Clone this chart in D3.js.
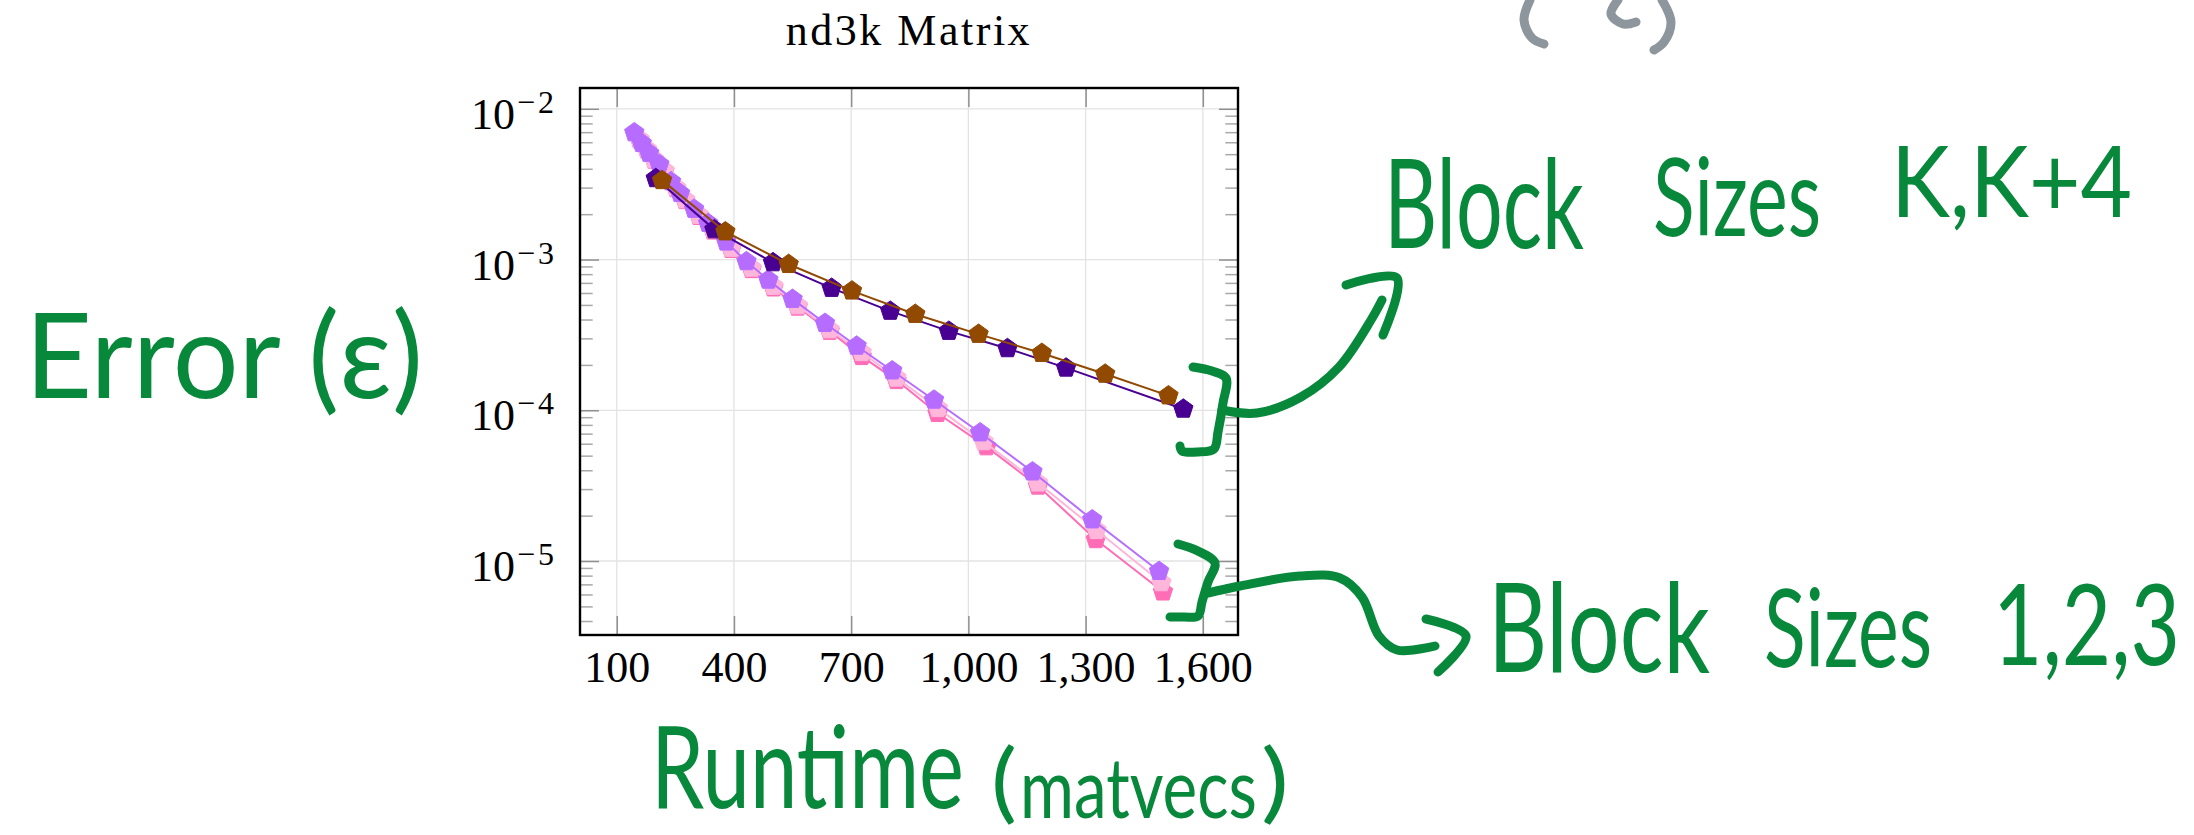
<!DOCTYPE html>
<html>
<head>
<meta charset="utf-8">
<script src="https://cdn.jsdelivr.net/npm/d3@7"></script>
<style>
    html, body { margin: 0; padding: 0; background: #fff; }
    svg { display: block; }
</style>
</head>
<body>
<svg id="chart" width="2194" height="835"></svg>
<script>
const title = "nd3k Matrix"
const xTicks = [100, 400, 700, 1000, 1300, 1600]
const yTicks = [1e-2, 1e-3, 1e-4, 1e-5]
const xDomain = [6, 1690]
const yDomain = [3.23e-6, 1.374e-2]

// block size K
const runtimeK = [200, 350, 500, 650, 800, 950, 1100, 1250, 1550]
const errorK = [3.45e-3, 1.58e-3, 9.55e-4, 6.46e-4, 4.55e-4, 3.35e-4, 2.57e-4, 1.91e-4, 1.02e-4]
// block size K+4
const runtimeK4 = [216, 378, 540, 702, 864, 1026, 1188, 1350, 1512]
const errorK4 = [3.35e-3, 1.53e-3, 9.3e-4, 6.2e-4, 4.34e-4, 3.2e-4, 2.39e-4, 1.74e-4, 1.25e-4]
// block size 1
const runtimeB1 = [145, 164, 183, 209, 239, 262, 298, 334, 380, 432, 488, 550, 633, 714, 805, 912, 1030, 1164, 1317, 1488]
const errorB1 = [6.95e-3, 5.91e-3, 5.07e-3, 4.28e-3, 3.29e-3, 2.75e-3, 2.16e-3, 1.74e-3, 1.31e-3, 9.7e-4, 7.32e-4, 5.46e-4, 3.78e-4, 2.67e-4, 1.83e-4, 1.17e-4, 7.1e-5, 3.91e-5, 1.88e-5, 8.55e-6]
// block size 2
const runtimeB2 = [158, 177, 196, 222, 252, 275, 311, 347, 393, 445, 501, 563, 645, 727, 816, 922, 1039, 1178, 1328, 1494]
const errorB2 = [6.3e-3, 5.4e-3, 4.62e-3, 3.9e-3, 3.0e-3, 2.5e-3, 1.97e-3, 1.58e-3, 1.19e-3, 8.8e-4, 6.65e-4, 4.95e-4, 3.43e-4, 2.42e-4, 1.64e-4, 1.03e-4, 6.2e-5, 3.3e-5, 1.6e-5, 7.2e-6]
// block size 3
const runtimeB3 = [158, 177, 196, 222, 252, 275, 311, 347, 393, 445, 501, 563, 645, 727, 816, 921, 1046, 1178, 1326, 1498]
const errorB3 = [6.25e-3, 5.35e-3, 4.58e-3, 3.85e-3, 2.96e-3, 2.47e-3, 1.94e-3, 1.55e-3, 1.17e-3, 8.6e-4, 6.5e-4, 4.85e-4, 3.35e-4, 2.28e-4, 1.58e-4, 9.55e-5, 5.74e-5, 3.15e-5, 1.39e-5, 6.25e-6]

const seriesColors = ["#ff6db6", "#ffb6db", "#b66dff", "#490092", "#924900"]
const INK = "#07883b"
const SERIF = "'Liberation Serif', 'DejaVu Serif', serif"
const HAND = "Lato, 'Liberation Sans', sans-serif"

class ErrorPlot {
    constructor(svgSel) {
        this.svg = d3.select(svgSel)
        this.left = 580
        this.right = 1238
        this.top = 88
        this.bottom = 635

        this.x = d3.scaleLinear().domain(xDomain).range([this.left, this.right])
        this.y = d3.scaleLog().domain(yDomain).range([this.bottom, this.top])

        this.series = [
            [runtimeB3, errorB3],
            [runtimeB2, errorB2],
            [runtimeB1, errorB1],
            [runtimeK, errorK],
            [runtimeK4, errorK4]
        ].map((s, i) => ({points: d3.zip(s[0], s[1]), color: seriesColors[i]}))

        this.drawGrid()
        this.drawTicks()
        this.drawSeries()
        this.drawFrame()
        this.drawLabels()
    }
    drawGrid() {
        let g = this.svg.append("g").attr("class", "grid")
        g.selectAll(".gx").data(xTicks).join("line")
        .attr("x1", d => this.x(d))
        .attr("x2", d => this.x(d))
        .attr("y1", this.top)
        .attr("y2", this.bottom)
        .attr("stroke", "#e3e3e3")
        .attr("stroke-width", 1.3)
        g.selectAll(".gy").data(yTicks).join("line")
        .attr("x1", this.left)
        .attr("x2", this.right)
        .attr("y1", d => this.y(d))
        .attr("y2", d => this.y(d))
        .attr("stroke", "#e3e3e3")
        .attr("stroke-width", 1.3)
    }
    styleTicks(g, color) {
        g.select(".domain").remove()
        g.selectAll("line").attr("stroke", color).attr("stroke-width", 1.5)
    }
    drawTicks() {
        let minor = this.y.ticks().filter(v => Math.abs(Math.log10(v) - Math.round(Math.log10(v))) > 1e-6)

        this.svg.append("g")
        .attr("transform", `translate(0,${this.top})`)
        .call(d3.axisTop(this.x).tickValues(xTicks).tickSize(-19).tickFormat(""))
        .call(g => this.styleTicks(g, "#8f8f8f"))

        let bottom = this.svg.append("g")
        .attr("transform", `translate(0,${this.bottom})`)
        .call(d3.axisBottom(this.x).tickValues(xTicks).tickSize(-19).tickPadding(16).tickFormat(d3.format(",")))
        .call(g => this.styleTicks(g, "#8f8f8f"))
        bottom.attr("font-family", SERIF).attr("font-size", 44)
        bottom.selectAll("text").attr("fill", "#000")

        for (let side of ["left", "right"]) {
            let px = side == "left" ? this.left : this.right
            let axis = side == "left" ? d3.axisLeft : d3.axisRight
            this.svg.append("g")
            .attr("transform", `translate(${px},0)`)
            .call(axis(this.y).tickValues(minor).tickSize(-12.7).tickFormat(""))
            .call(g => this.styleTicks(g, "#a9a9a9"))
            this.svg.append("g")
            .attr("transform", `translate(${px},0)`)
            .call(axis(this.y).tickValues(yTicks).tickSize(-19).tickFormat(""))
            .call(g => this.styleTicks(g, "#8f8f8f"))
        }
    }
    pentagon(r) {
        let pts = d3.range(5).map(i => {
            let a = -Math.PI / 2 + i * 2 * Math.PI / 5
            return [r * Math.cos(a), r * Math.sin(a)]
        })
        return "M" + pts.join("L") + "Z"
    }
    drawSeries() {
        let line = d3.line().x(d => this.x(d[0])).y(d => this.y(d[1]))
        let mark = this.pentagon(10.2)
        for (let s of this.series) {
            let g = this.svg.append("g")
            g.append("path")
            .attr("d", line(s.points))
            .attr("fill", "none")
            .attr("stroke", s.color)
            .attr("stroke-width", 2)
            g.selectAll("path.mark").data(s.points).join("path")
            .attr("class", "mark")
            .attr("d", mark)
            .attr("transform", d => `translate(${this.x(d[0])},${this.y(d[1])})`)
            .attr("fill", s.color)
            .attr("stroke", s.color)
            .attr("stroke-width", 1)
        }
    }
    drawFrame() {
        this.svg.append("rect")
        .attr("x", this.left)
        .attr("y", this.top)
        .attr("width", this.right - this.left)
        .attr("height", this.bottom - this.top)
        .attr("fill", "none")
        .attr("stroke", "#000")
        .attr("stroke-width", 2.4)
    }
    drawLabels() {
        let labels = this.svg.append("g")
        .attr("font-family", SERIF)
        .attr("fill", "#000")
        // 10 and its exponent are two texts so they sit like a LaTeX label
        labels.selectAll("text.ybase").data(yTicks).join("text")
        .attr("class", "ybase")
        .attr("x", this.left - 65)
        .attr("y", d => this.y(d) + 20)
        .attr("text-anchor", "end")
        .attr("font-size", 44)
        .text("10")
        labels.selectAll("text.yexp").data(yTicks).join("text")
        .attr("class", "yexp")
        .attr("x", this.left - 63)
        .attr("y", d => this.y(d) + 4)
        .attr("font-size", 32)
        .attr("letter-spacing", 3)
        .text(d => "\u2212" + Math.round(-Math.log10(d)))

        labels.append("text")
        .attr("x", (this.left + this.right) / 2)
        .attr("y", 45)
        .attr("text-anchor", "middle")
        .attr("font-size", 44)
        .attr("letter-spacing", 2.5)
        .text(title)
    }
}

// handwritten notes on top of the figure
const inkWords = [
    {text: "Error (\u03b5)", x: 25, y: 398, size: 118, width: 398},
    {text: "Runtime", x: 651, y: 808, size: 114, width: 313},
    {text: "(", x: 991, y: 812, size: 88, width: 26},
    {text: "matvecs", x: 1020, y: 818, size: 84, width: 237},
    {text: ")", x: 1261, y: 812, size: 88, width: 28},
    {text: "Block", x: 1384, y: 248, size: 125, width: 200},
    {text: "Sizes", x: 1653, y: 236, size: 108, width: 168},
    {text: "K,K+4", x: 1891, y: 217, size: 98, width: 241},
    {text: "Block", x: 1488, y: 672, size: 125, width: 222},
    {text: "Sizes", x: 1764, y: 667, size: 108, width: 168},
    {text: "1,2,3", x: 1993, y: 665, size: 112, width: 187}
]
const inkStrokes = [
    // brace round the K, K+4 curves and its arrow
    [[1193, 367], [1212, 371], [1226, 378], [1223, 403], [1218, 432], [1214, 449], [1198, 452], [1182, 451], [1180, 446]],
    [[1222, 410], [1257, 413], [1301, 397], [1339, 367], [1371, 320], [1382, 300]],
    [[1346, 285], [1397, 278], [1383, 335]],
    // brace round the 1,2,3 curves and its arrow
    [[1178, 544], [1198, 551], [1215, 563], [1208, 582], [1202, 602], [1198, 616], [1184, 617], [1170, 617]],
    [[1208, 593], [1240, 586], [1300, 576], [1340, 578], [1362, 597], [1379, 636], [1397, 650], [1435, 646]],
    [[1426, 619], [1466, 636], [1438, 672]]
]
const greyStrokes = [
    [[1530, 0], [1524, 20], [1532, 38], [1544, 44]],
    [[1618, 0], [1611, 14], [1623, 24], [1636, 22]],
    [[1662, 0], [1671, 22], [1664, 42], [1654, 50]]
]

function drawInk(svg) {
    let g = svg.append("g")
    let curve = d3.line().curve(d3.curveCatmullRom.alpha(0.5))
    g.selectAll("path.ink").data(inkStrokes).join("path")
    .attr("d", curve)
    .attr("fill", "none")
    .attr("stroke", INK)
    .attr("stroke-width", 9)
    .attr("stroke-linecap", "round")
    .attr("stroke-linejoin", "round")
    g.selectAll("path.grey").data(greyStrokes).join("path")
    .attr("d", curve)
    .attr("fill", "none")
    .attr("stroke", "#8d969c")
    .attr("stroke-width", 9)
    .attr("stroke-linecap", "round")
    g.selectAll("text.ink").data(inkWords).join("text")
    .attr("font-size", d => d.size)
    .attr("font-family", HAND)
    .attr("fill", INK)
    .text(d => d.text)
    .attr("transform", function(d) {
        let w = this.getComputedTextLength()
        return `translate(${d.x},${d.y}) scale(${d.width / w},1)`
    })
}

let plot = new ErrorPlot("#chart")
drawInk(plot.svg)
</script>
</body>
</html>
